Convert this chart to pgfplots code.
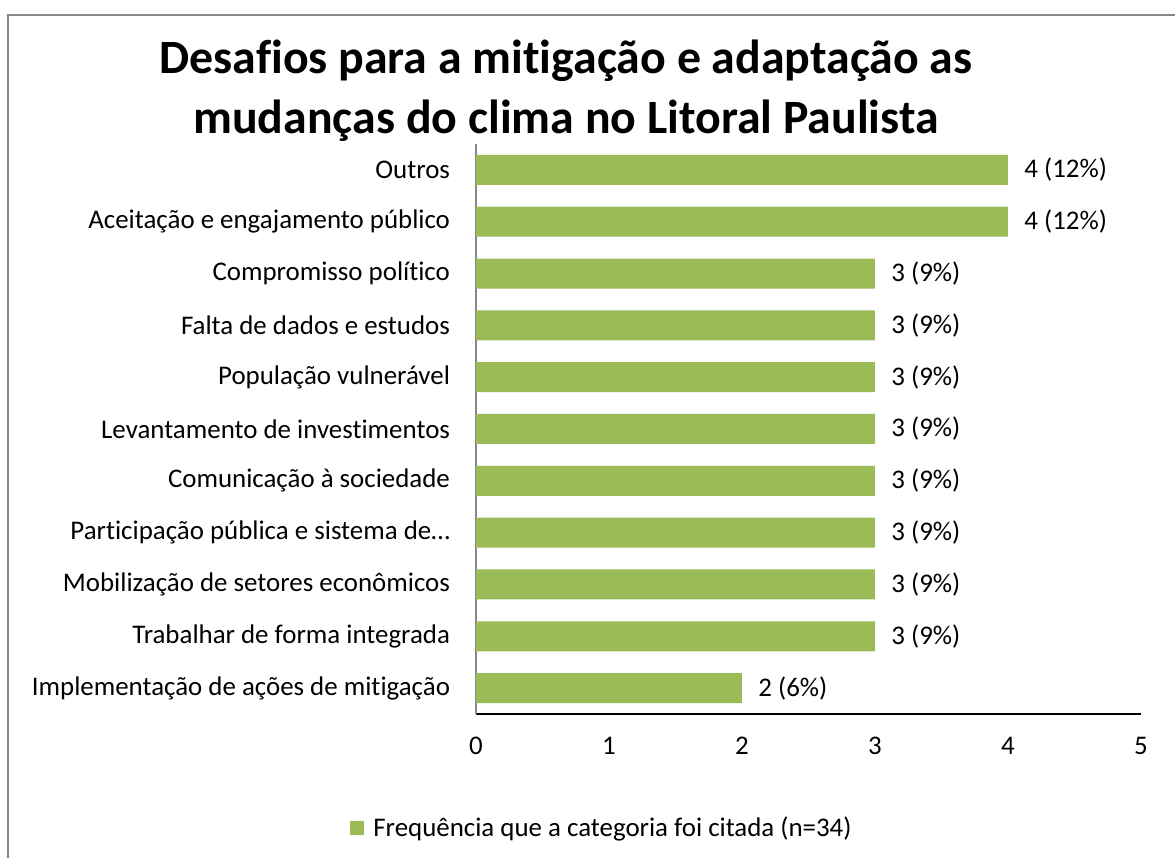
\documentclass[border=0pt]{standalone}
\usepackage{pgfplots}
\pgfplotsset{compat=1.18}
\usepackage{fontspec}
\setmainfont{Carlito}[Ligatures=NoCommon]
\definecolor{barg}{HTML}{9BBB59}
\definecolor{frameg}{HTML}{888888}
\begin{document}
\begin{tikzpicture}
\path[use as bounding box] (0,0) rectangle (587.5bp,429bp);
\draw[frameg, line width=0.8bp] (4bp,0) -- (4bp,421.5bp) -- (587.5bp,421.5bp);
\node[font=\fontsize{24}{30}\selectfont\bfseries, align=center, anchor=center] at (283bp,383.5bp)
  {Desafios para a mitigação e adaptação as\\mudanças do clima no Litoral Paulista};
\begin{axis}[
  at={(238bp,72bp)}, anchor=south west,
  scale only axis, width=332.5bp, height=285bp,
  xbar, bar width=15bp,
  xmin=0, xmax=5, ymin=-0.5, ymax=10.5,
  xtick={0,1,2,3,4,5},
  ytick={0,...,10},
  yticklabels={Implementação de ações de mitigação, Trabalhar de forma integrada, Mobilização de setores econômicos, Participação pública e sistema de…, Comunicação à sociedade, Levantamento de investimentos, População vulnerável, Falta de dados e estudos, Compromisso político, Aceitação e engajamento público, Outros},
  axis x line*=bottom, axis y line*=left,
  x axis line style={black, line width=1bp, -},
  y axis line style={frameg, line width=1bp, -},
  major tick length=0pt,
  tick style={draw=none},
  /pgf/number format/assume math mode=true,
  ticklabel style={font=\fontsize{13.5}{16}\selectfont},
  xticklabel style={yshift=-8bp},
  yticklabel style={xshift=-9.5bp},
  point meta=explicit symbolic,
  nodes near coords,
  nodes near coords style={font=\fontsize{13.5}{16}\selectfont, anchor=west, inner sep=0pt, xshift=8bp},
  legend style={at={(axis description cs:0.191,-0.2)}, anchor=center, draw=none, font=\fontsize{13.5}{16}\selectfont, legend cell align=left},
  legend image code/.code={\fill[barg] (0bp,-3.5bp) rectangle (7bp,3.5bp); \path (9.5bp,0bp);},
]
\addplot[fill=barg, draw=none] coordinates {
 (2,0) [2 (6\%)]
 (3,1) [3 (9\%)]
 (3,2) [3 (9\%)]
 (3,3) [3 (9\%)]
 (3,4) [3 (9\%)]
 (3,5) [3 (9\%)]
 (3,6) [3 (9\%)]
 (3,7) [3 (9\%)]
 (3,8) [3 (9\%)]
 (4,9) [4 (12\%)]
 (4,10) [4 (12\%)]
};
\addlegendentry{Frequência que a categoria foi citada (n=34)}
\end{axis}
\end{tikzpicture}
\end{document}
